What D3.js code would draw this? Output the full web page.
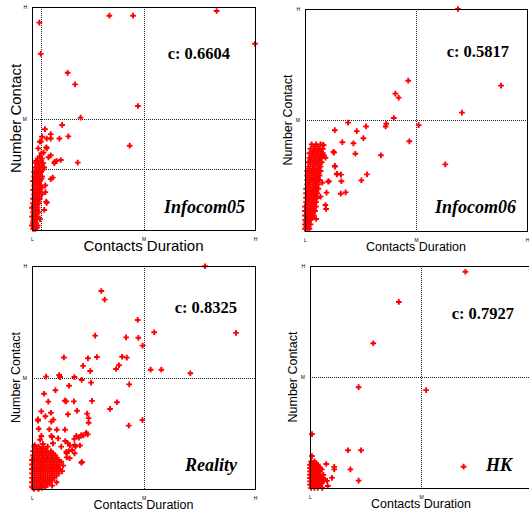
<!DOCTYPE html>
<html>
<head>
<meta charset="utf-8">
<script src="https://cdn.jsdelivr.net/npm/d3@7"></script>
<style>
  body { margin: 0; background: #fff; }
  svg { display: block; }
</style>
</head>
<body>
<svg id="chart" width="529" height="514"></svg>
<script>
// DATA
// Each point is [contacts duration, number of contacts], 0 = L, 50 = M, 100 = H

const datasetNames = ["Infocom05", "Infocom06", "Reality", "HK"];
const correlations = ["0.6604", "0.5817", "0.8325", "0.7927"];
const tickLabels = ["L", "M", "H"];
const xTickValues = [0, 50, 100];
const yTickValues = [50, 100];
// extra threshold lines (only Infocom05 has them)
const extraX = [[3.9], [], [], []];
const extraY = [[27.2], [], [], []];

const infocom05 = [
  [3.3,93],[3.9,79],[34.7,96.1],[45.3,96.1],[82.8,98.2],[100,83.5],[16,70.5],[19.3,65.3],
  [47.5,55.6],[21.8,50.4],[13.5,47.1],[5.8,45.2],[8.4,43],[16.3,42],[12.3,41],[8.4,41],
  [4.5,41.8],[6.6,41],[4,39.7],[43.8,37.8],[6.6,36.6],[2.8,36.6],[5.2,34.7],[8.4,33.5],
  [7.4,32.6],[12.9,31.4],[11,31],[10,30],[20.5,30.2],[9.3,23.5],[8.4,22.8],[6.6,12.2],
  [3.6,4.8],[3.5,39.6],[6.4,37.1],[4.2,34.4],[10.2,30.6],
  [2.5,32],[4.5,32],[1.5,30],[3,30],[5,30],[1.5,28],[3.5,28],[5.5,28],[1,26],[2.5,26],
  [4,26],[1,24],[2.5,24],[4.5,24],[0.5,22],[2,22],[3.5,22],[1,20],[2.5,20],[4,20],
  [0.5,18],[2,18],[3.5,18],[1,16],[2.5,16],[4.5,16],[0.5,14],[2,14],[3.5,14],[0.5,12],
  [1.5,12],[3,12],[0,10],[1.5,10],[2.5,10],[0.5,8],[1.5,8],[3,8],[0,6],[1.5,6],[2.5,6],
  [0.5,4],[1.5,4],[0,2],[1,2],[2.5,2],[0.5,0.5],[1.5,0.5],[6,20],[5.5,9],[6,17],[6.4,12.7],
  [3.5,33],[1.8,31],[4,31],[2.5,29],[4.5,29],[2,27],[3.2,27],[4.8,27],[1.8,25],[3.5,25],
  [1.5,23],[3,23],[4.2,23],[1.8,21],[3.2,21],[1.2,19],[3,19],[4.5,19],[1.8,17],[3.5,17],
  [1.2,15],[3,15],[1.2,13],[2.5,13],[1,11],[2.2,11],[1,9],[2.2,9],[0.8,7],[2,7],[0.8,5],
  [2,5],[0.5,3],[1.8,3],[1,1],[2.2,1]
];

const infocom06 = [
  [68.9,100],[88.3,65.5],[70.7,53.3],[46.5,67.7],[40.7,61.9],[42.2,60.1],[40,50.9],[51.2,47.7],
  [36.6,48.3],[36.3,47.1],[27.5,47.1],[19.4,48.8],[13.4,45.4],[23.3,45],[26.3,41.8],[16.8,40],
  [21.8,39.5],[47,40.4],[8.4,38.7],[13.1,35.3],[22.7,34.8],[34.2,34.1],[8.5,34.1],[9.2,33],
  [63.2,30],[13.4,29.3],[14.4,25.8],[16.2,25.4],[27.9,25.5],[25.4,22.8],[16.4,22.4],[10.7,22.4],
  [7.8,21.8],[16.1,16.8],[18.3,17.4],[9.7,17.3],[9.2,11.7],[9.5,9.9],[5,5.4],
  [12.8,35.7],[13.5,29],[14.3,25.5],[10.5,22.2],[7,15.5],[7.5,33.8],[8,38.7],
  [3,39],[5,39],[7,39],[2.5,37],[4.5,37],[6.5,37],[8,37],[2,35],[4,35],[6,35],[8,35],
  [2,33],[4,33],[6,33],[7.5,33],[1.5,31],[3.5,31],[5.5,31],[7.5,31],[1.5,29],[3.5,29],
  [5.5,29],[7,29],[1,27],[3,27],[5,27],[7,27],[1,25],[3,25],[5,25],[6.5,25],[1,23],[3,23],
  [5,23],[6.5,23],[1,21],[2.5,21],[4.5,21],[6,21],[0.5,19],[2.5,19],[4.5,19],[6,19],
  [0.5,17],[2.5,17],[4,17],[5.5,17],[0.5,15],[2,15],[4,15],[5.5,15],[0.5,13],[2,13],
  [3.5,13],[5,13],[0,11],[2,11],[3.5,11],[5,11],[0,9],[1.5,9],[3,9],[4.5,9],[0,7],[1.5,7],
  [3,7],[4,7],[0,5],[1.5,5],[2.5,5],[0,3],[1,3],[2.5,3],[0,1],[1,1],[2,1],
  [4,38],[6,38],[3.5,36],[5.5,36],[7,36],[3,34],[5,34],[7,34],[2.5,32],[4.5,32],[6.5,32],
  [2.5,30],[4.5,30],[6.5,30],[2,28],[4,28],[6,28],[2,26],[4,26],[6,26],[2,24],[4,24],
  [5.8,24],[1.8,22],[3.8,22],[5.5,22],[1.5,20],[3.5,20],[5.2,20],[1.5,18],[3.5,18],[5,18],
  [1.2,16],[3,16],[4.8,16],[1.2,14],[3,14],[4.5,14],[1,12],[2.8,12],[4.2,12],[1,10],
  [2.5,10],[4,10],[0.8,8],[2.2,8],[3.5,8],[0.8,6],[2,6],[3.2,6],[0.5,4],[1.8,4],[0.5,2],[1.5,2]
];

const reality = [
  [77.6,99.9],[31.1,88.8],[32.6,84.9],[91.5,70],[47.4,75.8],[54.8,70.3],[28.3,68.8],[42.2,68],
  [47.7,67.8],[49.6,64.3],[14.3,59],[29.1,59.2],[25.1,58.6],[40.4,59.3],[42.5,58.9],[39,55.5],
  [37.7,53.8],[22.9,55.2],[26.1,52.9],[53.2,53.5],[58,53.5],[71,51.9],[6.3,50.4],[12.2,51.1],
  [12.6,50.2],[19,50.2],[22.3,48.9],[26.5,47.7],[16.6,46.3],[43.6,46.9],[5.4,42.7],[10.5,44.3],
  [14.7,39.6],[15.4,39.3],[18.8,39.3],[26.9,39.5],[38.1,38.9],[7.3,39.2],[35,35.9],[24.7,33.8],
  [20.2,35.1],[16.1,33.5],[4.2,34.8],[8.5,34.2],[6,32.6],[2.7,31.2],[9.6,31.1],[25.4,31.8],
  [25.4,29.7],[49.5,30.9],[43.4,28.4],[3,27],[7.8,26.8],[11.1,26.6],[14.8,26.6],[23,24],
  [25,24.5],[21,23],[19,22.5],[3.6,22.1],[9,23.3],[14.9,21.5],[17,19.5],[21.5,19.5],
  [19.5,19],[16.5,17],[18,17.5],[15.5,16],[22.4,12.1],[15.6,14.2],
  [2.7,30.6],[8.7,30.2],[4.2,23.8],[8.7,23.8],[11.7,22.7],[1.2,19.7],[4.9,20.2],[9.4,20.5],
  [13.1,19],[16.1,20.5],[19.9,23.8],[22.1,24.2],[24.3,25.2],[19.1,19.7],[15.4,16.7],
  [16.9,13.8],[22.1,11.8],[19.1,16],[13.1,12.2],[11.7,10],
  [1,19],[3,19],[5,19],[7,19],[0.5,17],[2.5,17],[4.5,17],[6.5,17],[8.5,17],
  [0.5,15],[2.5,15],[4.5,15],[6.5,15],[8.5,15],[10.5,15],[0,13],[2,13],[4,13],[6,13],
  [8,13],[10,13],[12,13],[0,11],[2,11],[4,11],[6,11],[8,11],[10,11],[12,11],[0,9],[2,9],
  [4,9],[6,9],[8,9],[10,9],[12.5,9],[0,7],[2,7],[4,7],[6,7],[8,7],[10,7],[12,7],[0,5],
  [2,5],[4,5],[6,5],[8,5],[10,5],[0,3],[2,3],[4,3],[6,3],[8,3],[0,1],[2,1],[4,1],[6,1],
  [1,0],[3,0],[13.5,8],[14,10.5],[11,3],[9,1.5],
  [2,18],[4,18],[6,18],[1.5,16],[3.5,16],[5.5,16],[7.5,16],[9.5,16],[1,14],[3,14],[5,14],
  [7,14],[9,14],[11,14],[1,12],[3,12],[5,12],[7,12],[9,12],[11,12],[1,10],[3,10],[5,10],
  [7,10],[9,10],[11,10],[1,8],[3,8],[5,8],[7,8],[9,8],[11,8],[1,6],[3,6],[5,6],[7,6],[9,6],
  [11,6],[1,4],[3,4],[5,4],[7,4],[9,4],[1,2],[3,2],[5,2],[7,2],[0.5,0.5],[2.5,0.5],[4.5,0.5]
];

const hk = [
  [70,97.4],[40,83.8],[28.5,65.2],[21.9,45.4],[52.3,44.1],[69.2,9.6],[0.9,24.3],[17.1,17],
  [23,17],[18.2,8.4],[21.9,3.3],[7.3,10.8],[10.9,9.5],[10.9,8.4],[9.9,4.6],[7.7,3.2],
  [8,0.9],[0.9,14.4],[2.7,10.8],[3.7,8.1],[6,5.9],[6.3,3.6],[5.3,8.4],
  [0.5,12],[2,12],[0,10.5],[1.5,10.5],[3.5,10.5],[0,9],[1.5,9],[3,9],[4.5,9],[0,7.5],
  [1.5,7.5],[3,7.5],[4.5,7.5],[0,6],[1.5,6],[3,6],[4.5,6],[0,4.5],[1.5,4.5],[3,4.5],
  [4.5,4.5],[6,4.5],[0,3],[1.5,3],[3,3],[4.5,3],[6,3],[0,1.5],[1.5,1.5],[3,1.5],[4.5,1.5],
  [0.5,0],[2,0],[3.5,0],[5.5,0],
  [1,11.2],[2.5,11.2],[0.8,9.8],[2.2,9.8],[3.8,9.8],[0.8,8.2],[2.2,8.2],[3.8,8.2],
  [0.8,6.8],[2.2,6.8],[3.8,6.8],[0.8,5.2],[2.2,5.2],[3.8,5.2],[5.2,5.2],[0.8,3.8],
  [2.2,3.8],[3.8,3.8],[5.2,3.8],[0.8,2.2],[2.2,2.2],[3.8,2.2],[5.2,2.2],[1.2,0.8],
  [2.8,0.8],[4.5,0.8]
];

const datasets = [infocom05, infocom06, reality, hk];

// LAYOUT (pixel boxes of the four panels)
const panels = [
  {x0: 32,  x1: 255, top: 7,   bottom: 230, labelSize: 15,   xLab: 21,   yLab: 11, cDx: 25, cDy: 52, nDx: 10, nDy: 17},
  {x0: 305, x1: 527, top: 9,   bottom: 231, labelSize: 12.5, xLab: 19.5, yLab: 13, cDx: 18, cDy: 48, nDx: 11, nDy: 18},
  {x0: 32,  x1: 255, top: 266, bottom: 489, labelSize: 12.5, xLab: 19.5, yLab: 12, cDx: 18, cDy: 47, nDx: 18, nDy: 18},
  {x0: 310, x1: 532, top: 266, bottom: 488, labelSize: 12.5, xLab: 19.5, yLab: 13, cDx: 18, cDy: 53, nDx: 20, nDy: 17}
];

const svg = d3.select("#chart");
const sans = "'Liberation Sans', Arial, sans-serif";
const serif = "'Liberation Serif', 'Times New Roman', serif";
const marker = d3.symbol().type(d3.symbolCross).size(18);
// snap 1px lines to the pixel grid
const crisp = v => Math.round(v) + 0.5;

panels.forEach((p, i) => {
  const x = d3.scaleLinear().domain([0, 100]).range([p.x0, p.x1]);
  const y = d3.scaleLinear().domain([0, 100]).range([p.bottom, p.top]);
  const g = svg.append("g");

  // dotted guide lines
  const guideX = [50].concat(extraX[i]);
  const guideY = [50].concat(extraY[i]);
  g.selectAll(".gx").data(guideX).enter().append("line")
    .attr("x1", d => crisp(x(d))).attr("x2", d => crisp(x(d)))
    .attr("y1", p.top).attr("y2", p.bottom)
    .attr("stroke", "#222").attr("stroke-width", 1).attr("stroke-dasharray", "1,1");
  g.selectAll(".gy").data(guideY).enter().append("line")
    .attr("x1", p.x0).attr("x2", p.x1)
    .attr("y1", d => crisp(y(d))).attr("y2", d => crisp(y(d)))
    .attr("stroke", "#222").attr("stroke-width", 1).attr("stroke-dasharray", "1,1");

  // points
  g.selectAll("path.pt").data(datasets[i]).enter().append("path")
    .attr("class", "pt")
    .attr("d", marker)
    .attr("transform", d => "translate(" + x(d[0]) + "," + y(d[1]) + ")")
    .attr("fill", "#ff0000");

  // frame
  g.append("rect")
    .attr("x", crisp(p.x0)).attr("y", crisp(p.top))
    .attr("width", p.x1 - p.x0).attr("height", p.bottom - p.top)
    .attr("fill", "none").attr("stroke", "#000").attr("stroke-width", 1);

  // axes with L / M / H ticks
  const xAxis = g.append("g")
    .attr("transform", "translate(0," + p.bottom + ")")
    .call(d3.axisBottom(x).tickValues(xTickValues)
      .tickFormat(d => tickLabels[d / 50]).tickSize(0).tickPadding(7));
  const yAxis = g.append("g")
    .attr("transform", "translate(" + p.x0 + ",0)")
    .call(d3.axisLeft(y).tickValues(yTickValues)
      .tickFormat(d => tickLabels[d / 50]).tickSize(0).tickPadding(5));
  [xAxis, yAxis].forEach(a => {
    a.select(".domain").remove();
    a.selectAll("text").attr("font-size", 5).attr("font-family", sans).attr("fill", "#000");
  });

  // axis titles
  g.append("text")
    .attr("x", (p.x0 + p.x1) / 2).attr("y", p.bottom + p.xLab)
    .attr("text-anchor", "middle")
    .attr("font-family", sans).attr("font-size", p.labelSize)
    .text("Contacts Duration");
  g.append("text")
    .attr("transform", "translate(" + (p.x0 - p.yLab) + "," + (p.top + p.bottom) / 2 + ") rotate(-90)")
    .attr("text-anchor", "middle")
    .attr("font-family", sans).attr("font-size", p.labelSize)
    .text("Number Contact");

  // correlation and dataset name
  g.append("text")
    .attr("x", p.x1 - p.cDx).attr("y", p.top + p.cDy)
    .attr("text-anchor", "end")
    .attr("font-family", serif).attr("font-weight", "bold").attr("font-size", 16.5)
    .text("c: " + correlations[i]);
  g.append("text")
    .attr("x", p.x1 - p.nDx).attr("y", p.bottom - p.nDy)
    .attr("text-anchor", "end")
    .attr("font-family", serif).attr("font-weight", "bold").attr("font-style", "italic")
    .attr("font-size", 18)
    .text(datasetNames[i]);
});
</script>
</body>
</html>
